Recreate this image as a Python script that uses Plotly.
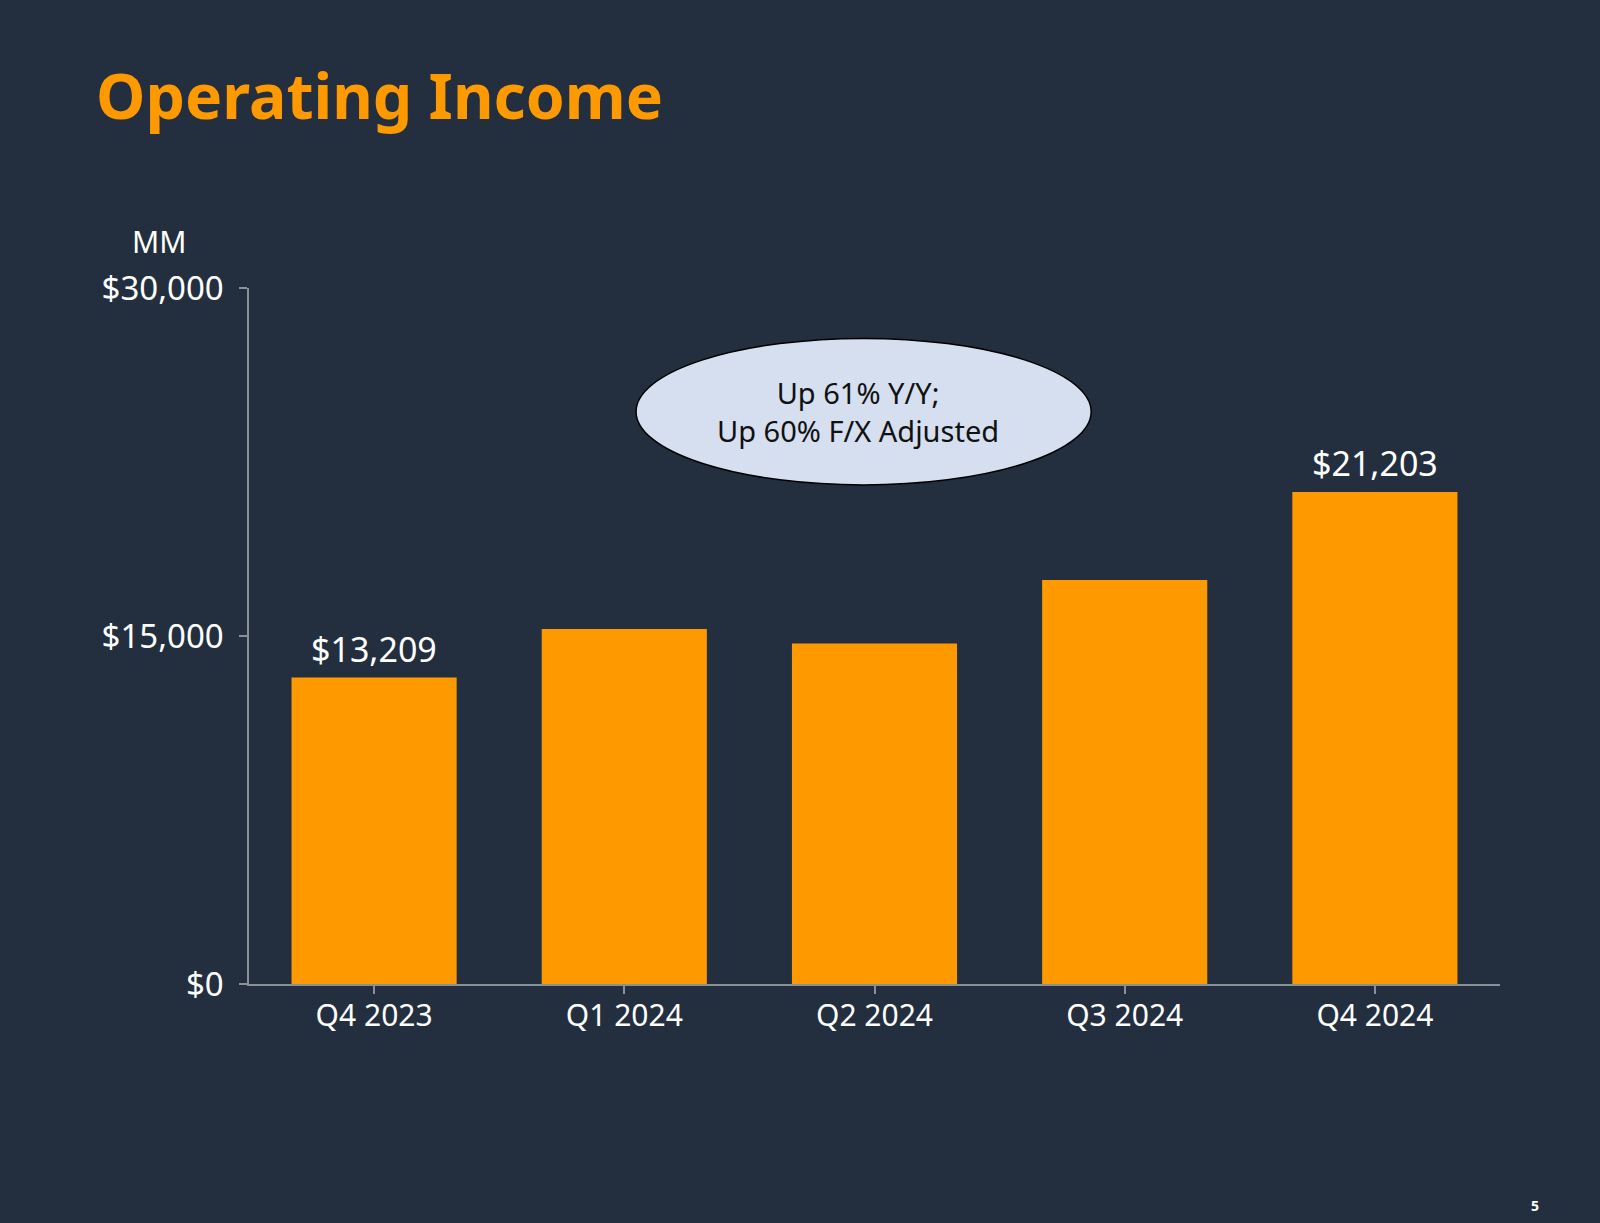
import plotly.graph_objects as go

# Data
quarters = ["Q4 2023", "Q1 2024", "Q2 2024", "Q3 2024", "Q4 2024"]
operating_income = [13209, 15307, 14672, 17411, 21203]
show_value_label = [True, False, False, False, True]
y_tick_values = [0, 15000, 30000]
y_tick_labels = ["$0", "$15,000", "$30,000"]
title_text = "Operating Income"
unit_text = "MM"
callout_lines = ["Up 61% Y/Y;", "Up 60% F/X Adjusted"]
page_number = "5"

BG = "#232F3E"
ORANGE = "#FF9900"
AXIS = "#8A9099"
FONT = "Noto Sans"

# plot area in pixels
L, R, T, B = 249, 100, 288, 239
PW, PH = 1600 - L - R, 1223 - T - B


def px_x(x):
    return (x - L) / PW


def px_y(y):
    return (1223 - B - y) / PH


fig = go.Figure()
fig.add_trace(go.Bar(
    x=quarters,
    y=operating_income,
    marker=dict(color=ORANGE, line=dict(width=0)),
    width=0.66,
    hoverinfo="skip",
))

fig.update_layout(
    width=1600, height=1223, autosize=False,
    paper_bgcolor=BG, plot_bgcolor=BG,
    margin=dict(l=L, r=R, t=T, b=B),
    showlegend=False,
    font=dict(family=FONT, color="white"),
    xaxis=dict(
        range=[-0.5, 4.5],
        showgrid=False, zeroline=False,
        showline=True, linecolor=AXIS, linewidth=2,
        ticks="outside", ticklen=8, tickwidth=1.5, tickcolor=AXIS,
        tickfont=dict(family=FONT, size=30, color="white"),
        ticklabelstandoff=-4,
        fixedrange=True,
    ),
    yaxis=dict(
        range=[0, 30000],
        tickvals=y_tick_values, ticktext=y_tick_labels,
        showgrid=False, zeroline=False,
        showline=True, linecolor=AXIS, linewidth=1.5,
        ticks="outside", ticklen=8, tickwidth=1.5, tickcolor=AXIS,
        tickfont=dict(family=FONT, size=33, color="white"),
        ticklabelstandoff=9,
        fixedrange=True,
    ),
)

# Value labels above selected bars
for q, v, s in zip(quarters, operating_income, show_value_label):
    if s:
        fig.add_annotation(
            x=q, y=v, xref="x", yref="y",
            text=f"${v:,}", showarrow=False,
            yanchor="middle", yshift=29,
            font=dict(family=FONT, size=34, color="white"),
        )

# Callout ellipse
fig.add_shape(
    type="circle", xref="x", yref="y",
    x0=1.047, x1=2.866, y0=21508, y1=27828,
    fillcolor="#D5DFEF", line=dict(color="black", width=1.5),
    layer="above",
)
fig.add_annotation(
    x=1.934, y=px_y(411), xref="x", yref="paper",
    text="<br>".join(callout_lines), showarrow=False,
    yanchor="middle", align="center",
    font=dict(family=FONT, size=29, color="#111111"),
)

# Title
fig.add_annotation(
    x=px_x(94), y=px_y(95), xref="paper", yref="paper",
    xanchor="left", yanchor="middle",
    text=f"<b>{title_text}</b>", showarrow=False,
    font=dict(family=FONT, size=62.5, color=ORANGE),
)
# Unit label
fig.add_annotation(
    x=px_x(159), y=px_y(241), xref="paper", yref="paper",
    xanchor="center", yanchor="middle",
    text=unit_text, showarrow=False,
    font=dict(family=FONT, size=30, color="white"),
)
# Page number
fig.add_annotation(
    x=px_x(1535), y=px_y(1205), xref="paper", yref="paper",
    xanchor="center", yanchor="middle",
    text=f"<b>{page_number}</b>", showarrow=False,
    font=dict(family=FONT, size=14, color="white"),
)

fig.write_html("out.html", config={"displayModeBar": False})
